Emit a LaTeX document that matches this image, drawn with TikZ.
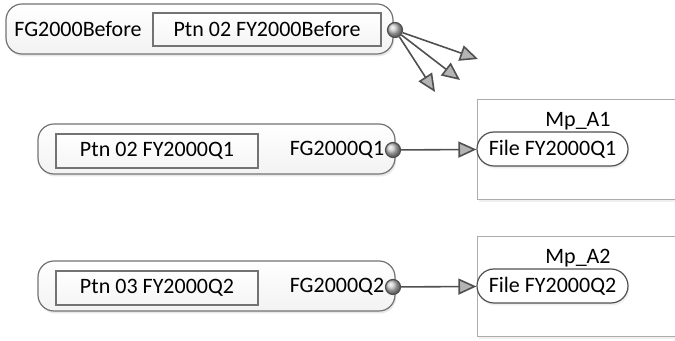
\documentclass[tikz,border=0pt]{standalone}
\usepackage{fontspec}
\setmainfont{Carlito}
\usetikzlibrary{arrows.meta,shadows}

\definecolor{lineGray}{RGB}{80,80,80}
\definecolor{edgeGray}{RGB}{115,115,115}
\definecolor{tipGray}{RGB}{180,180,180}

\begin{document}
\begin{tikzpicture}[x=0.5pt,y=-0.5pt,font=\fontsize{11}{13}\selectfont,
    group/.style={draw=edgeGray,line width=0.6pt,rounded corners=8pt,
      top color=white,bottom color=gray!10,minimum height=25pt,
      drop shadow={shadow xshift=0.6pt,shadow yshift=-1.2pt,fill=gray!35,opacity=0.5}},
    partbox/.style={draw=edgeGray,line width=0.6pt,top color=white,bottom color=gray!8,inner sep=0pt},
    filebox/.style={draw=lineGray,line width=0.6pt,rounded corners=8.5pt,fill=white,
      minimum height=17pt,inner sep=0pt,
      drop shadow={shadow xshift=0.6pt,shadow yshift=-1.2pt,fill=gray!30,opacity=0.4}},
    mapbox/.style={draw=gray!65,line width=0.6pt,fill=white,anchor=north west,
      minimum width=130pt,minimum height=50pt,
      drop shadow={shadow xshift=0.6pt,shadow yshift=-1.2pt,fill=gray!30,opacity=0.4}},
    port/.style={circle,draw=lineGray,line width=0.6pt,minimum size=7.5pt,inner sep=0pt,
      shading=ball,ball color=gray!45},
    flow/.style={draw=lineGray,line width=0.8pt,-{Triangle[length=9pt,width=8pt,fill=tipGray]}},
    label/.style={anchor=base,inner sep=0pt}]
  \clip (0,0) rectangle (675,341);
  \useasboundingbox (0,0) rectangle (675,341);

  % top group with three open outputs
  \node[group,minimum width=193.5pt] (before) at (199.5,29) {};
  \node[label] (beforeName) at (78,37) {FG2000Before};
  \node[partbox,minimum width=114pt,minimum height=16.5pt] (beforePtn) at (267,29.5) {Ptn 02 FY2000Before};
  \node[port] (beforePort) at (395,30) {};
  \coordinate (outA) at (478,59);
  \coordinate (outB) at (460,80);
  \coordinate (outC) at (435,92);
  \draw[flow] (beforePort) -- (outA);
  \draw[flow] (beforePort) -- (outB);
  \draw[flow] (beforePort) -- (outC);

  % Q1 group feeding Mp_A1
  \node[group,minimum width=178.5pt] (q1) at (216.5,149) {};
  \node[partbox,minimum width=101pt,minimum height=17pt] (q1Ptn) at (157,151) {Ptn 02 FY2000Q1};
  \node[label] (q1Name) at (337,156) {FG2000Q1};
  \node[port] (q1Port) at (393,150) {};
  \node[mapbox] (mapA1) at (477,99) {};
  \node[label] (mapA1Name) at (578,127) {Mp\_A1};
  \node[filebox,minimum width=75.5pt] (fileQ1) at (552.5,149) {File FY2000Q1};
  \draw[flow] (q1Port) -- (fileQ1);

  % Q2 group feeding Mp_A2
  \node[group,minimum width=178.5pt] (q2) at (216.5,286) {};
  \node[partbox,minimum width=101pt,minimum height=17pt] (q2Ptn) at (157,288) {Ptn 03 FY2000Q2};
  \node[label] (q2Name) at (337,293) {FG2000Q2};
  \node[port] (q2Port) at (393,287) {};
  \node[mapbox] (mapA2) at (477,236) {};
  \node[label] (mapA2Name) at (578,264) {Mp\_A2};
  \node[filebox,minimum width=75.5pt] (fileQ2) at (552.5,286) {File FY2000Q2};
  \draw[flow] (q2Port) -- (fileQ2);
\end{tikzpicture}
\end{document}
